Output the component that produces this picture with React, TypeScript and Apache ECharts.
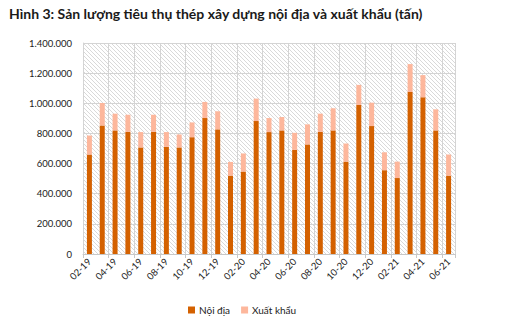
import React, { useEffect, useRef } from "react";
import * as echarts from "echarts";

const categories = [
  "02-19", "03-19", "04-19", "05-19", "06-19", "07-19", "08-19", "09-19", "10-19", "11-19", "12-19",
  "01-20", "02-20", "03-20", "04-20", "05-20", "06-20", "07-20", "08-20", "09-20", "10-20", "11-20", "12-20",
  "01-21", "02-21", "03-21", "04-21", "05-21", "06-21",
];

const domestic = [
  660000, 853000, 820000, 811000, 707000, 811000, 711000, 707000, 775000, 902000, 827000,
  520000, 547000, 882000, 809000, 820000, 691000, 727000, 811000, 820000, 613000, 989000, 849000,
  556000, 504000, 1075000, 1040000, 820000, 520000,
];

const totals = [
  786000, 1002000, 931000, 924000, 809000, 924000, 809000, 793000, 873000, 1009000, 947000,
  611000, 667000, 1031000, 902000, 909000, 804000, 860000, 931000, 967000, 733000, 1122000, 1004000,
  675000, 613000, 1260000, 1187000, 960000, 660000,
];

const exportVals = totals.map((t, i) => t - domestic[i]);

const seriesNames = ["Nội địa", "Xuất khẩu"];
const titleText = "Hình 3: Sản lượng tiêu thụ thép xây dựng nội địa và xuất khẩu (tấn)";

function makePattern(): HTMLCanvasElement {
  const c = document.createElement("canvas");
  c.width = 4;
  c.height = 4;
  const ctx = c.getContext("2d")!;
  ctx.fillStyle = "#ffffff";
  ctx.fillRect(0, 0, 4, 4);
  ctx.strokeStyle = "#d9d9d9";
  ctx.lineWidth = 1;
  ctx.beginPath();
  ctx.moveTo(-1, -1);
  ctx.lineTo(5, 5);
  ctx.moveTo(-1, 3);
  ctx.lineTo(1, 5);
  ctx.moveTo(3, -1);
  ctx.lineTo(5, 1);
  ctx.stroke();
  return c;
}

function fmt(v: number): string {
  return String(v).replace(/\B(?=(\d{3})+(?!\d))/g, ".");
}

export default function App() {
  const ref = useRef<HTMLDivElement>(null);
  useEffect(() => {
    if (!ref.current) return;
    const chart = echarts.init(ref.current, undefined, { renderer: "svg" });
    const pattern = { image: makePattern(), repeat: "repeat" } as any;
    chart.setOption({
      animation: false,
      backgroundColor: "#ffffff",
      title: {
        text: titleText,
        left: 4,
        top: 1,
        textStyle: {
          fontFamily: "Lato",
          fontWeight: "bold",
          fontSize: 14,
          color: "#1a1a1a",
        },
      },
      legend: {
        data: seriesNames,
        bottom: 5,
        left: 183,
        itemWidth: 7,
        itemHeight: 7,
        itemGap: 11,
        icon: "rect",
        textStyle: { fontFamily: "Lato", fontSize: 10, color: "#222", padding: [0, 0, 0, -1] },
      },
      grid: {
        left: 83,
        right: 57,
        top: 43,
        bottom: 71,
        show: true,
        backgroundColor: pattern,
        borderWidth: 0,
      },
      xAxis: {
        type: "category",
        data: categories,
        boundaryGap: true,
        axisLine: { show: true, lineStyle: { color: "#c8c8c8" } },
        axisTick: { show: true, interval: 1, length: 4, lineStyle: { color: "#c8c8c8" } },
        splitLine: { show: true, interval: 1, lineStyle: { color: "#d4d4d4", width: 1 } },
        axisLabel: {
          interval: 1,
          rotate: 45,
          fontFamily: "Lato",
          fontSize: 9.5,
          color: "#222",
          margin: 6,
        },
      },
      yAxis: {
        type: "value",
        min: 0,
        max: 1400000,
        interval: 200000,
        axisLine: { show: true, lineStyle: { color: "#d4d4d4" } },
        axisTick: { show: false },
        splitLine: { show: true, lineStyle: { color: "#d4d4d4", width: 1 } },
        axisLabel: {
          formatter: (v: number) => fmt(v),
          fontFamily: "Lato",
          fontSize: 9.5,
          color: "#222",
          margin: 11,
        },
      },
      series: [
        {
          name: seriesNames[0],
          type: "bar",
          stack: "total",
          data: domestic,
          barWidth: 5,
          itemStyle: { color: "#D46100" },
        },
        {
          name: seriesNames[1],
          type: "bar",
          stack: "total",
          data: exportVals,
          barWidth: 5,
          itemStyle: { color: "#FDB79C" },
        },
      ],
    });
    return () => chart.dispose();
  }, []);
  return <div ref={ref} style={{ width: 512, height: 325, margin: -8 }} />;
}
